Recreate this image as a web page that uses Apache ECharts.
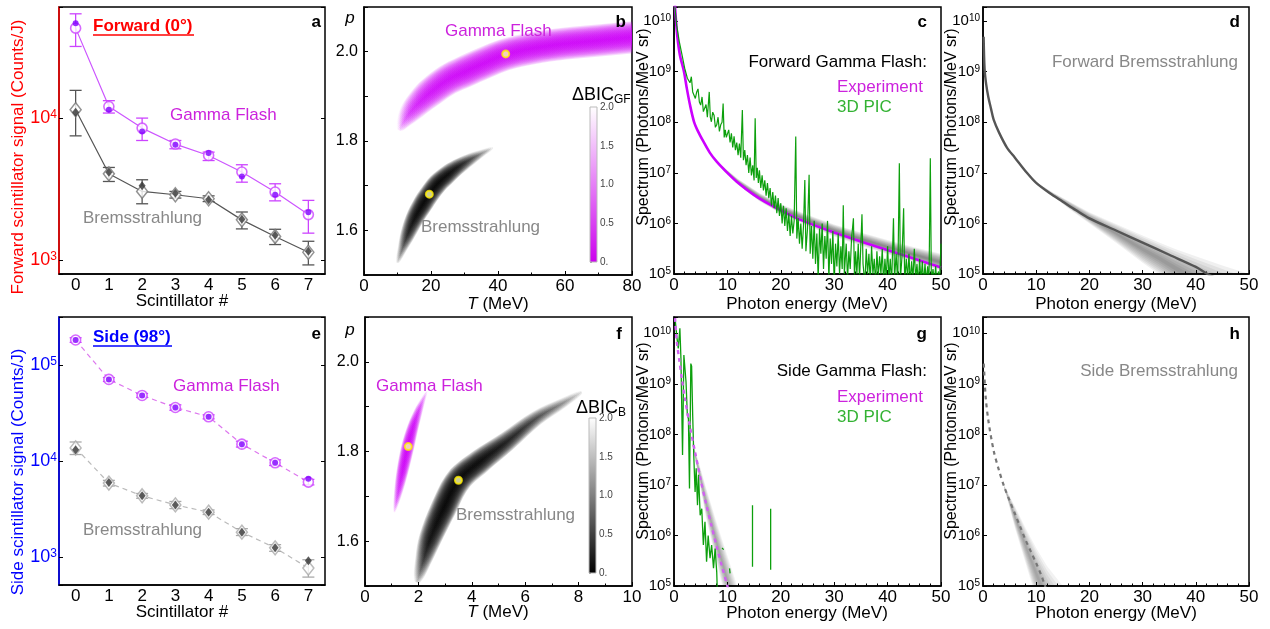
<!DOCTYPE html>
<html>
<head>
<meta charset="utf-8">
<script src="https://cdn.jsdelivr.net/npm/echarts@6.0.0/dist/echarts.min.js"></script>
<style>
html,body{margin:0;padding:0;background:#fff;}
#chart{width:1270px;height:629px;}
</style>
</head>
<body>
<div id="chart"></div>
<script>
// ===================== DATA =====================
const scintillators = ['0','1','2','3','4','5','6','7'];

// Panel a : forward scintillator signal (Counts/J)
const fwdGF      = [42800, 12000, 8460, 6530, 5430, 4150, 3000, 2080];
const fwdGFLow   = [31800, 10800, 6920, 6050, 5000, 3520, 2600, 1540];
const fwdGFHigh  = [54000, 13200, 9950, 6920, 5730, 4670, 3430, 2620];
const fwdGFFit   = [46400, 11400, 8010, 6450, 5650, 3860, 2870, 2160];
const fwdBr      = [11400, 4030, 3030, 2870, 2690, 1910, 1460, 1130];
const fwdBrLow   = [7460, 3560, 2480, 2720, 2570, 1650, 1280, 920];
const fwdBrHigh  = [15600, 4470, 3660, 3030, 2820, 2170, 1640, 1350];
const fwdBrFit   = [10960, 4130, 3320, 2940, 2650, 1930, 1490, 1150];

// Panel e : side scintillator signal (Counts/J)
const sideGF     = [182000, 70800, 48200, 36100, 28900, 15000, 9600, 6040];
const sideGFLow  = [172000, 67500, 46000, 33800, 27500, 14000, 9000, 5650];
const sideGFHigh = [192000, 74000, 50500, 38500, 30300, 16100, 10300, 6450];
const sideGFFit  = [182000, 70800, 48200, 36100, 28900, 15000, 9600, 6550];
const sideBr     = [13700, 5900, 4350, 3500, 2940, 1820, 1250, 770];
const sideBrLow  = [11700, 5500, 4100, 3200, 2780, 1680, 1150, 620];
const sideBrHigh = [15800, 6300, 4600, 3800, 3100, 1980, 1350, 940];
const sideBrFit  = [13100, 6000, 4350, 3500, 2940, 1820, 1250, 920];

// Panels b, f : ΔBIC valleys, centre line [T (MeV), p, depth 0..1]
const bGF = [[10.5,1.825,0.05],[12,1.845,0.3],[14,1.866,0.55],[17,1.89,0.75],[20,1.91,0.88],[25,1.937,0.95],[30,1.955,1],[36,1.975,1],[42,1.993,1],[50,2.007,1],[60,2.018,1],[70,2.025,1],[80,2.032,1],[84,2.035,1]];
const bBr = [[10,1.528,0.05],[11.5,1.56,0.3],[13,1.59,0.6],[15,1.625,0.85],[17.5,1.658,1],[19.5,1.681,1],[22,1.705,1],[25,1.725,0.9],[28,1.742,0.7],[31.5,1.758,0.45],[35,1.772,0.2],[38.5,1.785,0.03]];
const fGF = [[1.1,1.665,0.05],[1.25,1.71,0.5],[1.4,1.755,0.85],[1.6,1.81,1],[1.8,1.855,0.8],[2.0,1.89,0.5],[2.15,1.912,0.25],[2.32,1.935,0.03]];
const fBr = [[1.96,1.51,0.1],[2.2,1.56,0.5],[2.44,1.605,0.8],[2.94,1.673,1],[3.5,1.736,1],[4.31,1.778,0.9],[5.31,1.822,0.65],[6.44,1.875,0.4],[7.44,1.909,0.2],[8.1,1.932,0.04]];
const bBest = [[42.3,1.995],[19.5,1.681]];
const fBest = [[1.62,1.811],[3.5,1.736]];

// Panels c, d, g, h : spectra, [E (MeV), log10(Photons/MeV sr)]
const expC = [[0.12,10.4],[0.3,10.12],[0.6,9.72],[1.1,9.33],[1.87,9.0],[2.4,8.67],[3.0,8.34],[3.75,8.01],[4.5,7.82],[5.5,7.62],[6.7,7.4],[8.0,7.22],[9.8,7.02],[11.7,6.83],[14.9,6.57],[18,6.37],[21.1,6.2],[24.2,6.05],[30,5.82],[36,5.61],[43,5.37],[50,5.13]];
const bandC = [[9,7.08,7.14],[12,6.76,6.88],[16,6.44,6.6],[20,6.19,6.38],[25,5.95,6.17],[30,5.74,5.98],[35,5.56,5.82],[40,5.39,5.67],[45,5.23,5.53],[50,5.06,5.4]];
const picC = [[0.1,10.35],[0.5,9.92],[1,9.59],[1.5,9.33],[2,9.07],[2.5,8.87],[3,8.78],[3.25,8.9],[3.5,8.6],[4,8.47],[4.25,8.6],[4.5,8.66],[4.75,8.4],[5,8.34],[5.25,8.5],[5.5,8.21],[6,8.35],[6.25,8.1],[6.5,8.08],[6.6,8.6],[6.8,8.1],[7,8.01],[7.25,8.2],[7.5,8.14],[7.75,7.9],[8,7.95],[8.25,8.1],[8.5,7.82],[8.75,7.95],[9,8.0],[9.2,8.37],[9.4,7.7],[9.6,7.85],[9.8,7.7],
  [10,7.68],[10.25,7.85],[10.5,7.6],[10.75,7.78],[11,7.5],[11.25,7.72],[11.5,7.45],[11.75,7.6],[12,7.35],[12.25,7.58],[12.5,7.3],[12.8,8.24],[13,7.25],[13.25,7.45],[13.5,7.15],[13.75,7.35],[14,7.0],[14.25,7.3],[14.5,6.95],[14.75,7.15],[15,6.85],[15.2,8.08],[15.4,6.9],[15.6,7.1],[15.8,6.8],[16,7.05],[16.25,6.7],[16.5,6.95],[16.75,6.65],[17,6.85],[17.25,6.55],[17.5,6.8],[17.75,6.5],[18,6.7],[18.25,6.35],[18.5,6.62],[18.75,6.3],[19,6.55],[19.25,6.2],[19.5,6.5],[19.75,6.15],[20,6.4],[20.25,6.0],[20.5,6.35],[20.75,5.95],[21,6.3],[21.25,5.85],[21.5,6.2],[21.75,5.75],[22,6.15],[22.25,5.8],[22.5,6.05],[22.8,7.72],[23.0,5.7],[23.25,6.1],[23.5,5.6],[23.75,6.0],[24,5.5],[24.25,5.95],[24.5,6.86],[24.7,5.45],[25,5.9],[25.3,6.96],[25.5,5.4],
  [25.75,5.95],[26,5.3],[26.25,6.05],[26.5,5.2],[26.75,5.8],[27,4.9],[27.25,5.9],[27.5,5.4],[27.75,6.0],[28,5.1],[28.25,5.75],[28.5,5.3],[28.75,6.05],[29,4.9],[29.25,5.7],[29.5,5.2],[29.75,5.85],[30,4.8],[30.25,5.6],[30.5,5.15],[30.75,5.8],[31,5.0],[31.25,5.55],[31.5,5.1],[31.7,6.36],[31.9,5.0],[32.25,5.6],[32.5,4.9],[32.75,5.45],[33,5.1],[33.25,5.7],[33.6,6.1],[33.8,4.9],[34,5.45],[34.25,5.0],[34.5,5.6],[34.75,4.9],[35.2,6.18],[35.4,5.2],[35.75,4.8],[36,5.5],[36.25,5.0],[36.5,5.4],[36.75,4.85],[37,5.55],[37.25,5.0],[37.5,5.3],[37.75,4.8],[38,5.45],[38.25,4.95],[38.5,5.35],[38.75,5.0],[39,5.5],[39.25,4.8],[39.5,5.3],[39.75,4.9],[40,5.55],[40.25,4.9],[40.5,5.3],[40.75,4.8],[41.1,6.1],[41.3,4.9],[41.6,5.4],[41.9,4.8],[42.2,7.19],[42.4,4.9],[42.7,5.35],[43,6.3],[43.2,4.85],[43.5,5.3],[43.75,4.9],[44,5.4],[44.25,4.8],[44.5,5.25],[44.75,4.9],[45,5.5],[45.25,4.9],[45.5,5.2],[45.75,4.8],[46,5.3],[46.25,4.85],[46.5,5.25],[46.75,4.8],[47,5.2],[47.25,4.85],[47.5,5.15],[47.75,4.8],[48,7.29],[48.2,4.8],[48.5,5.1],[48.75,4.85],[49,5.15],[49.25,4.8],[49.5,5.05],[49.75,4.9],[50,5.6]];
const expD = [[0.12,9.69],[0.3,9.05],[0.6,8.75],[1,8.5],[1.5,8.27],[2,8.05],[3,7.8],[4.5,7.5],[6,7.3],[8.25,7.0],[10,6.8],[12.5,6.6],[15,6.43],[17.5,6.26],[20,6.1],[25,5.86],[30,5.62],[35,5.38],[40,5.14],[42.2,5.0],[45,4.87]];
const bandD = [[10,6.78,6.82],[13,6.55,6.62],[16,6.3,6.45],[20,6.0,6.22],[25,5.62,5.99],[30,5.22,5.76],[33,5.0,5.63],[36,4.75,5.5],[40,4.4,5.35],[45,4.0,5.17],[50,3.6,5.0]];
const expG = [[0.2,10.3],[0.5,9.86],[1,9.46],[1.5,9.08],[2,8.74],[3,8.15],[4,7.62],[5,7.1],[6,6.63],[7,6.2],[8,5.78],[9,5.38],[10,5.0],[10.6,4.75]];
const bandG = [[3.5,7.75,7.85],[4.5,7.2,7.5],[6,6.35,6.95],[8,5.45,6.25],[10,4.6,5.6],[12,3.8,4.95],[13,3.4,4.6]];
const picG = [[0.2,10.3],[0.5,9.96],[0.8,9.7],[1.1,10.1],[1.3,9.5],[1.6,7.59],[1.85,9.57],[2.25,9.04],[2.5,8.38],[2.7,8.31],[2.9,6.93],[3.15,9.4],[3.3,9.35],[3.5,8.38],[3.7,7.59],[3.95,6.86],[4.15,7.33],[4.4,6.6],[4.6,7.2],[4.9,6.4],[5.2,6.53],[5.5,5.81],[5.8,6.27],[6.1,5.48],[6.4,6.0],[6.75,5.55],[7.05,5.81],[7.4,5.35],[7.7,5.74],[8.0,5.28],[8.2,4.6],[8.6,null],[9.0,5.75],[9.3,5.72],[9.5,null],[10.4,5.35],[10.5,5.25],[10.7,null],[14.7,6.6],[14.7,5.38],[15,null],[18.1,6.53],[18.1,5.32]];
const expH = [[0.15,9.4],[0.5,8.74],[1,8.28],[2,7.68],[3,7.29],[4,6.96],[5,6.69],[6,6.43],[7,6.17],[8,5.91],[9,5.68],[10,5.45],[11,5.2],[11.5,5.05],[12,4.9]];
const bandH = [[4,6.93,6.99],[5,6.55,6.78],[6,6.15,6.58],[8,5.45,6.15],[10,4.75,5.75],[12,4.05,5.4],[15,3.1,5.0],[16,2.8,4.85]];

// ===================== HELPERS =====================
const FONT = '"Liberation Sans", Arial, Helvetica, sans-serif';
const lin = arr => arr.map(d => [d[0], d[1] === null ? '-' : Math.pow(10, d[1])]);

function pow10Label(v) {
  const e = Math.log10(v), r = Math.round(e);
  if (Math.abs(e - r) > 1e-6) return '';
  return '{b|10}{s|' + r + '}';
}
function richFor(color, bs, ss) {
  return {
    b: {fontSize: bs, color, fontFamily: FONT, lineHeight: bs, verticalAlign: 'bottom', padding: [Math.round(bs * 0.3), 0, 0, 0]},
    s: {fontSize: ss, color, fontFamily: FONT, lineHeight: ss, verticalAlign: 'top'}
  };
}
function logY(grid, min, max, color, bs, ss, margin) {
  return {type: 'log', logBase: 10, gridIndex: grid, min, max,
    axisLine: {show: true, lineStyle: {color, width: 1.5}},
    axisTick: {show: true, inside: true, length: 4, lineStyle: {color: '#000'}},
    splitLine: {show: false},
    axisLabel: {formatter: pow10Label, margin, rich: richFor(color, bs, ss)}};
}
function valX(grid, max, interval, minorSplit) {
  return {type: 'value', gridIndex: grid, min: 0, max, interval,
    axisLine: {show: true, lineStyle: {color: '#000', width: 1.5}},
    axisTick: {show: true, inside: true, length: 4, lineStyle: {color: '#000'}},
    minorTick: {show: !!minorSplit, splitNumber: minorSplit || 5, length: 2.5, lineStyle: {color: '#000'}},
    splitLine: {show: false},
    axisLabel: {fontSize: 17, color: '#000', margin: 3, fontFamily: FONT}};
}
function catX(grid) {
  return {type: 'category', gridIndex: grid, data: scintillators, boundaryGap: true,
    axisLine: {show: true, lineStyle: {color: '#000', width: 1.5}},
    axisTick: {show: false},
    axisLabel: {fontSize: 17, color: '#000', margin: 3, fontFamily: FONT}};
}
function pY(grid) {
  return {type: 'value', gridIndex: grid, min: 1.5, max: 2.1, interval: 0.1,
    axisLine: {show: true, lineStyle: {color: '#000', width: 1.5}},
    axisTick: {show: true, inside: true, length: 4, lineStyle: {color: '#000'}},
    splitLine: {show: false},
    axisLabel: {fontSize: 16, color: '#000', margin: 6, fontFamily: FONT,
      formatter: v => { const t = Math.round(v * 10); return (t % 2 === 0 && t >= 16 && t <= 20) ? (t / 10).toFixed(1) : ''; }}};
}
function rightLog(grid, min, max) {
  return {type: 'log', logBase: 10, gridIndex: grid, min, max, position: 'right',
    axisLine: {show: false}, axisTick: {show: true, inside: true, length: 4, lineStyle: {color: '#000'}},
    axisLabel: {show: false}, splitLine: {show: false}};
}
function cbY(grid) {
  return {type: 'value', gridIndex: grid, min: 0, max: 2, interval: 0.5, position: 'right',
    axisLine: {show: false},
    axisTick: {show: true, length: 2, lineStyle: {color: '#999'}},
    minorTick: {show: true, splitNumber: 5, length: 1.5, lineStyle: {color: '#bbb'}},
    splitLine: {show: false},
    axisLabel: {fontSize: 10, color: '#444', margin: 3, fontFamily: FONT, formatter: v => v === 0 ? '0.' : v.toFixed(1)}};
}

function errorBars(xi, low, high, color) {
  return {type: 'custom', xAxisIndex: xi, yAxisIndex: xi, silent: true, z: 3,
    data: low.map((l, i) => [i, l, high[i]]), encode: {x: 0, y: [1, 2]},
    renderItem: (params, api) => {
      const x = api.value(0);
      const p1 = api.coord([x, api.value(2)]), p2 = api.coord([x, api.value(1)]);
      const cap = 6, st = {stroke: color, lineWidth: 1.3};
      return {type: 'group', children: [
        {type: 'line', shape: {x1: p1[0], y1: p1[1], x2: p2[0], y2: p2[1]}, style: st},
        {type: 'line', shape: {x1: p1[0] - cap, y1: p1[1], x2: p1[0] + cap, y2: p1[1]}, style: st},
        {type: 'line', shape: {x1: p2[0] - cap, y1: p2[1], x2: p2[0] + cap, y2: p2[1]}, style: st}
      ]};
    }};
}

function fuzzBand(xi, bounds, rgb, layers, alpha) {
  return {type: 'custom', xAxisIndex: xi, yAxisIndex: xi, silent: true, clip: true, z: 1,
    data: lin(bounds.map(b => [b[0], b[2]])), encode: {x: 0, y: 1},
    renderItem: (params, api) => {
      if (params.dataIndex !== 0) return;
      const children = [];
      for (let k = 0; k < layers; k++) {
        const s = (layers - k) / layers;
        const up = [], lo = [];
        bounds.forEach(b => {
          const mid = (b[1] + b[2]) / 2, half = (b[2] - b[1]) / 2;
          up.push(api.coord([b[0], Math.pow(10, mid + half * s)]));
          lo.push(api.coord([b[0], Math.pow(10, mid - half * s)]));
        });
        children.push({type: 'polygon', shape: {points: up.concat(lo.reverse())},
          style: {fill: 'rgba(' + rgb + ',' + alpha + ')', stroke: null}});
      }
      return {type: 'group', children};
    }};
}

function heatBand(xi, pts, rgb, hw, a, layers) {
  return {type: 'custom', xAxisIndex: xi, yAxisIndex: xi, silent: true, clip: true, z: 1,
    data: pts.map(d => [d[0], d[1]]), encode: {x: 0, y: 1},
    renderItem: (params, api) => {
      if (params.dataIndex !== 0) return;
      const P = pts.map(d => api.coord([d[0], d[1]]));
      const n = P.length;
      const N = P.map((p, i) => {
        const A = P[Math.max(0, i - 1)], B = P[Math.min(n - 1, i + 1)];
        const dx = B[0] - A[0], dy = B[1] - A[1], L = Math.hypot(dx, dy) || 1;
        return [-dy / L, dx / L];
      });
      const P0 = P[0], Pn = P[n - 1];
      const Dx = Pn[0] - P0[0], Dy = Pn[1] - P0[1], DD = Dx * Dx + Dy * Dy || 1;
      let last = -1;
      const stops = P.map((p, i) => {
        let t = ((p[0] - P0[0]) * Dx + (p[1] - P0[1]) * Dy) / DD;
        t = Math.min(1, Math.max(0, t));
        if (t <= last) t = Math.min(1, last + 1e-4);
        last = t;
        return {offset: t, color: 'rgba(' + rgb + ',' + (a * pts[i][2]).toFixed(3) + ')'};
      });
      const children = [];
      for (let k = 0; k < layers; k++) {
        const s = (layers - k) / layers;
        const up = [], lo = [];
        P.forEach((p, i) => {
          const w = hw * s * Math.pow(pts[i][2], 0.6);
          up.push([p[0] + N[i][0] * w, p[1] + N[i][1] * w]);
          lo.push([p[0] - N[i][0] * w, p[1] - N[i][1] * w]);
        });
        children.push({type: 'polygon', shape: {points: up.concat(lo.reverse()), smooth: 0.35},
          style: {fill: new echarts.graphic.LinearGradient(P0[0], P0[1], Pn[0], Pn[1], stops, true), stroke: null}});
      }
      return {type: 'group', children};
    }};
}

function colorbar(xi, bottomColor) {
  return {type: 'custom', xAxisIndex: xi, yAxisIndex: xi, silent: true,
    data: [[0, 0]], encode: {x: 0, y: 1},
    renderItem: (params) => {
      const cs = params.coordSys;
      return {type: 'rect', shape: {x: cs.x, y: cs.y, width: cs.width, height: cs.height},
        style: {fill: new echarts.graphic.LinearGradient(0, 0, 0, 1, [{offset: 0, color: '#ffffff'}, {offset: 1, color: bottomColor}]),
          stroke: '#bbb', lineWidth: 1}};
    }};
}

function T(text, x, y, o = {}) {
  return {type: 'text', x, y, z: 100, silent: true, rotation: o.rot || 0,
    style: {text, fill: o.color || '#000', fontSize: o.size || 17, fontFamily: FONT,
      fontWeight: o.bold ? 'bold' : 'normal', fontStyle: o.italic ? 'italic' : 'normal',
      align: o.align || 'left', verticalAlign: 'middle'}};
}
function U(x1, x2, y, color) {
  return {type: 'line', z: 100, silent: true, shape: {x1, y1: y, x2, y2: y}, style: {stroke: color, lineWidth: 1.5}};
}

// ===================== OPTION =====================
const gridBox = [
  {left: 59, top: 7, width: 266, height: 267},
  {left: 364, top: 7, width: 268, height: 268},
  {left: 674, top: 7, width: 267, height: 267},
  {left: 983, top: 7, width: 266, height: 267},
  {left: 59, top: 317, width: 266, height: 268},
  {left: 365, top: 317, width: 267, height: 269},
  {left: 674, top: 317, width: 267, height: 269},
  {left: 983, top: 317, width: 266, height: 269}
].map(g => Object.assign({show: true, borderColor: '#000', borderWidth: 1.5, containLabel: false}, g));
gridBox.push({left: 590, top: 107, width: 7, height: 155, show: false});
gridBox.push({left: 589, top: 418, width: 7, height: 155, show: false});

const MAGC = '#cc00ff', MAGT = '#cc22dd', GRN = 'rgba(0,155,0,0.95)';
const FA_MIN = 794, FA_MAX = 60300, SE_MIN = 513, SE_MAX = 316000;
const DOT = {color: '#ffffb0', borderColor: '#ffee00', borderWidth: 2};

const option = {
  animation: false,
  backgroundColor: '#fff',
  textStyle: {fontFamily: FONT},
  grid: gridBox,
  xAxis: [
    catX(0), valX(1, 80, 20, 2), valX(2, 50, 10, 5), valX(3, 50, 10, 5),
    catX(4), valX(5, 10, 2, 2), valX(6, 50, 10, 5), valX(7, 50, 10, 5),
    {type: 'value', gridIndex: 8, min: 0, max: 1, show: false},
    {type: 'value', gridIndex: 9, min: 0, max: 1, show: false}
  ],
  yAxis: [
    logY(0, FA_MIN, FA_MAX, '#ff0000', 18, 12, 2),
    pY(1),
    logY(2, 1e5, 1.9e10, '#000', 15, 10, 3),
    logY(3, 1e5, 1.9e10, '#000', 15, 10, 3),
    logY(4, SE_MIN, SE_MAX, '#0000ff', 18, 12, 2),
    pY(5),
    logY(6, 1e5, 2.1e10, '#000', 15, 10, 3),
    logY(7, 1e5, 2.1e10, '#000', 15, 10, 3),
    cbY(8), cbY(9),
    rightLog(0, FA_MIN, FA_MAX), rightLog(4, SE_MIN, SE_MAX)
  ],
  series: [
    // ---- a ----
    {type: 'line', xAxisIndex: 0, yAxisIndex: 0, data: fwdGF, symbol: 'none', lineStyle: {color: '#cc55ff', width: 1.2}, z: 2},
    {type: 'line', xAxisIndex: 0, yAxisIndex: 0, data: fwdBr, symbol: 'none', lineStyle: {color: '#555', width: 1.2}, z: 2},
    errorBars(0, fwdGFLow, fwdGFHigh, '#cc44ff'),
    errorBars(0, fwdBrLow, fwdBrHigh, '#555'),
    {type: 'scatter', xAxisIndex: 0, yAxisIndex: 0, data: fwdBr, symbol: 'diamond', symbolSize: [11, 14], itemStyle: {color: '#fff', borderColor: '#777', borderWidth: 1.5}, z: 4},
    {type: 'scatter', xAxisIndex: 0, yAxisIndex: 0, data: fwdGF, symbol: 'circle', symbolSize: 10, itemStyle: {color: '#fff', borderColor: '#cc44ff', borderWidth: 1.6}, z: 4},
    {type: 'scatter', xAxisIndex: 0, yAxisIndex: 0, data: fwdBrFit, symbol: 'diamond', symbolSize: [7, 9], itemStyle: {color: '#333'}, z: 5},
    {type: 'scatter', xAxisIndex: 0, yAxisIndex: 0, data: fwdGFFit, symbol: 'circle', symbolSize: 6, itemStyle: {color: '#8000ff'}, z: 5},
    // ---- e ----
    {type: 'line', xAxisIndex: 4, yAxisIndex: 4, data: sideGF, symbol: 'none', lineStyle: {color: '#dd77ee', width: 1.2, type: [5, 4]}, z: 2},
    {type: 'line', xAxisIndex: 4, yAxisIndex: 4, data: sideBr, symbol: 'none', lineStyle: {color: '#bbb', width: 1.2, type: [5, 4]}, z: 2},
    errorBars(4, sideGFLow, sideGFHigh, '#cc44ff'),
    errorBars(4, sideBrLow, sideBrHigh, '#aaa'),
    {type: 'scatter', xAxisIndex: 4, yAxisIndex: 4, data: sideBr, symbol: 'diamond', symbolSize: [11, 14], itemStyle: {color: '#fff', borderColor: '#aaa', borderWidth: 1.5}, z: 4},
    {type: 'scatter', xAxisIndex: 4, yAxisIndex: 4, data: sideGF, symbol: 'circle', symbolSize: 10, itemStyle: {color: '#fff', borderColor: '#cc44ff', borderWidth: 1.6}, z: 4},
    {type: 'scatter', xAxisIndex: 4, yAxisIndex: 4, data: sideBrFit, symbol: 'diamond', symbolSize: [7, 9], itemStyle: {color: '#333'}, z: 5},
    {type: 'scatter', xAxisIndex: 4, yAxisIndex: 4, data: sideGFFit, symbol: 'circle', symbolSize: 6, itemStyle: {color: '#8000ff'}, z: 5},
    // ---- b ----
    heatBand(1, bGF, '205,0,245', 16, 0.14, 18),
    heatBand(1, bBr, '0,0,0', 10, 0.16, 18),
    {type: 'scatter', xAxisIndex: 1, yAxisIndex: 1, data: bBest, symbol: 'circle', symbolSize: 7, itemStyle: DOT, z: 5},
    // ---- f ----
    heatBand(5, fGF, '205,0,245', 6.5, 0.16, 18),
    heatBand(5, fBr, '0,0,0', 13, 0.16, 18),
    {type: 'scatter', xAxisIndex: 5, yAxisIndex: 5, data: fBest, symbol: 'circle', symbolSize: 7, itemStyle: DOT, z: 5},
    // ---- colorbars ----
    colorbar(8, '#cc00ee'),
    colorbar(9, '#000000'),
    // ---- c ----
    fuzzBand(2, bandC, '0,0,0', 8, 0.07),
    {type: 'line', xAxisIndex: 2, yAxisIndex: 2, data: lin(expC), symbol: 'none', smooth: 0.3, lineStyle: {color: MAGC, width: 2.6}, z: 2},
    {type: 'line', xAxisIndex: 2, yAxisIndex: 2, data: lin(picC), symbol: 'none', lineStyle: {color: GRN, width: 1.2}, z: 3},
    // ---- d ----
    fuzzBand(3, bandD, '0,0,0', 8, 0.06),
    {type: 'line', xAxisIndex: 3, yAxisIndex: 3, data: lin(expD), symbol: 'none', smooth: 0.3, lineStyle: {color: '#555', width: 2.4}, z: 2},
    // ---- g ----
    fuzzBand(6, bandG, '0,0,0', 8, 0.05),
    {type: 'line', xAxisIndex: 6, yAxisIndex: 6, data: lin(picG), symbol: 'none', connectNulls: false, lineStyle: {color: GRN, width: 1.3}, z: 2},
    {type: 'line', xAxisIndex: 6, yAxisIndex: 6, data: lin(expG), symbol: 'none', smooth: 0.3, lineStyle: {color: '#d060f0', width: 2.4, type: [4, 4]}, z: 3},
    // ---- h ----
    fuzzBand(7, bandH, '0,0,0', 8, 0.05),
    {type: 'line', xAxisIndex: 7, yAxisIndex: 7, data: lin(expH), symbol: 'none', smooth: 0.3, lineStyle: {color: '#777', width: 2.2, type: [4, 4]}, z: 2}
  ],
  graphic: [
    // axis titles
    T('Forward scintillator signal (Counts/J)', 18, 157, {color: '#ff0000', rot: Math.PI / 2, align: 'center', size: 17}),
    T('Side scintillator signal (Counts/J)', 18, 472, {color: '#0000ff', rot: Math.PI / 2, align: 'center', size: 17}),
    T('Scintillator #', 182, 301, {align: 'center'}),
    T('Scintillator #', 182, 612, {align: 'center'}),
    {type: 'text', x: 498, y: 304, z: 100, style: {text: '{i|T} (MeV)', align: 'center', verticalAlign: 'middle', fontSize: 17, fontFamily: FONT, fill: '#000', rich: {i: {fontStyle: 'italic', fontSize: 17, fontFamily: FONT}}}},
    {type: 'text', x: 498, y: 612, z: 100, style: {text: '{i|T} (MeV)', align: 'center', verticalAlign: 'middle', fontSize: 17, fontFamily: FONT, fill: '#000', rich: {i: {fontStyle: 'italic', fontSize: 17, fontFamily: FONT}}}},
    T('p', 350, 18, {italic: true, align: 'center'}),
    T('p', 350, 330, {italic: true, align: 'center'}),
    T('Photon energy (MeV)', 807, 304, {align: 'center'}),
    T('Photon energy (MeV)', 1116, 304, {align: 'center'}),
    T('Photon energy (MeV)', 807, 613, {align: 'center'}),
    T('Photon energy (MeV)', 1116, 613, {align: 'center'}),
    T('Spectrum (Photons/MeV sr)', 644, 127, {rot: Math.PI / 2, align: 'center', size: 16}),
    T('Spectrum (Photons/MeV sr)', 952, 127, {rot: Math.PI / 2, align: 'center', size: 16}),
    T('Spectrum (Photons/MeV sr)', 644, 441, {rot: Math.PI / 2, align: 'center', size: 16}),
    T('Spectrum (Photons/MeV sr)', 952, 441, {rot: Math.PI / 2, align: 'center', size: 16}),
    // panel a
    T('Forward (0°)', 93, 26, {color: '#ff0000', bold: true}), U(93, 194, 35, '#ff0000'),
    T('Gamma Flash', 170, 115, {color: MAGT}),
    T('Bremsstrahlung', 83, 218, {color: '#888'}),
    T('a', 321, 22, {bold: true, align: 'right'}),
    // panel b
    T('Gamma Flash', 445, 31, {color: MAGT}),
    T('Bremsstrahlung', 421, 227, {color: '#888'}),
    T('b', 626, 22, {bold: true, align: 'right'}),
    T('ΔBIC', 572, 95, {size: 18}), T('GF', 614, 100, {size: 12}),
    // panel c
    T('c', 927, 22, {bold: true, align: 'right'}),
    T('Forward Gamma Flash:', 927, 62, {align: 'right'}),
    T('Experiment', 837, 87, {color: MAGT}),
    T('3D PIC', 837, 107, {color: '#33b233'}),
    // panel d
    T('d', 1240, 22, {bold: true, align: 'right'}),
    T('Forward Bremsstrahlung', 1238, 62, {align: 'right', color: '#888'}),
    // panel e
    T('Side (98°)', 93, 337, {color: '#0000ff', bold: true}), U(93, 172, 346, '#0000ff'),
    T('Gamma Flash', 173, 386, {color: MAGT}),
    T('Bremsstrahlung', 83, 530, {color: '#888'}),
    T('e', 321, 334, {bold: true, align: 'right'}),
    // panel f
    T('Gamma Flash', 376, 386, {color: MAGT}),
    T('Bremsstrahlung', 456, 515, {color: '#888'}),
    T('f', 622, 334, {bold: true, align: 'right'}),
    T('ΔBIC', 576, 408, {size: 18}), T('B', 618, 413, {size: 12}),
    // panel g
    T('g', 927, 334, {bold: true, align: 'right'}),
    T('Side Gamma Flash:', 927, 371, {align: 'right'}),
    T('Experiment', 837, 397, {color: MAGT}),
    T('3D PIC', 837, 417, {color: '#33b233'}),
    // panel h
    T('h', 1240, 334, {bold: true, align: 'right'}),
    T('Side Bremsstrahlung', 1238, 371, {align: 'right', color: '#888'})
  ]
};

const chart = echarts.init(document.getElementById('chart'), null, {renderer: 'canvas', width: 1270, height: 629});
chart.setOption(option);
</script>
</body>
</html>
